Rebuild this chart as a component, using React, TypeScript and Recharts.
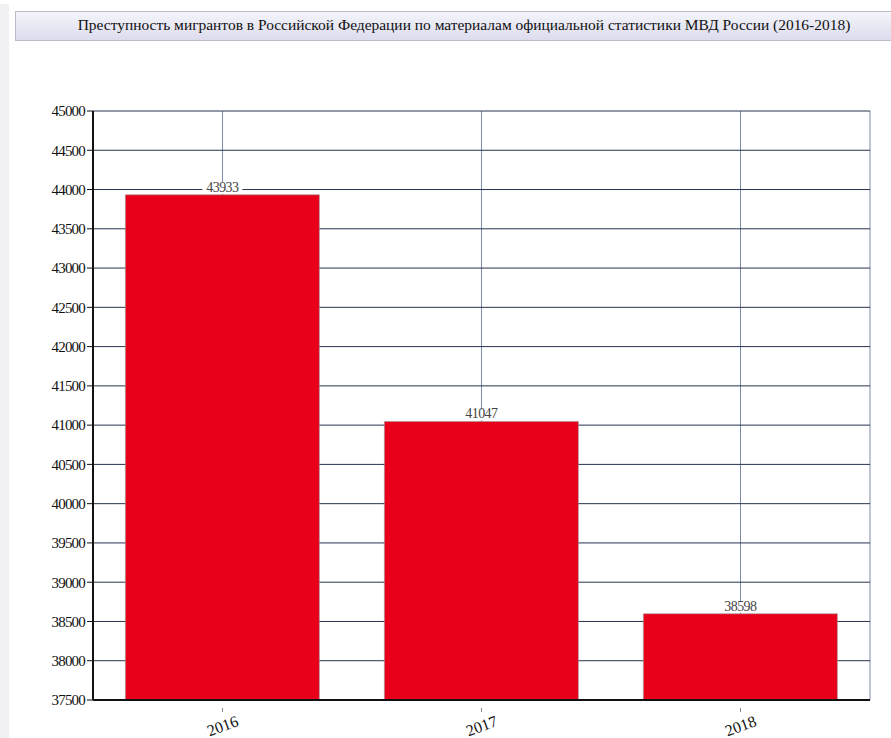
import React from 'react';
import { BarChart, Bar, XAxis, YAxis, CartesianGrid, LabelList } from 'recharts';

const years = ['2016', '2017', '2018'];
const crimes = [43933, 41047, 38598];
const yTicks = [37500, 38000, 38500, 39000, 39500, 40000, 40500, 41000, 41500, 42000, 42500, 43000, 43500, 44000, 44500, 45000];
const title = 'Преступность мигрантов в Российской Федерации по материалам официальной статистики МВД России (2016-2018)';

const data = years.map((year, i) => ({ year, crimes: crimes[i] }));

const FONT = 'Liberation Serif';

function ValueLabel(props: any) {
  const { x, y, width, value } = props;
  const cx = x + width / 2;
  const w = 40;
  return (
    <g>
      <rect x={cx - w / 2} y={y - 12} width={w} height={11} fill="#fff" />
      <text x={cx} y={y - 3} textAnchor="middle" fontFamily={FONT} fontSize={14} fill="#444" letterSpacing={-0.6}>
        {value}
      </text>
    </g>
  );
}

function YearTick(props: any) {
  const { x, y, payload } = props;
  return (
    <g transform={`translate(${x},${y})`}>
      <line x1={0} y1={0} x2={0} y2={4} stroke="#888" />
      <text x={0} y={0} transform="translate(2,23) rotate(-20)" textAnchor="middle" fontFamily={FONT} fontSize={16} fill="#111">
        {payload.value}
      </text>
    </g>
  );
}

export default function App() {
  return (
    <div style={{ position: 'absolute', left: 0, top: 0, width: 891, height: 738, background: '#fff', overflow: 'hidden' }}>
      <div style={{ position: 'absolute', left: 0, top: 4, width: 9, height: 734, background: '#f1f1f3' }} />
      <div
        style={{
          position: 'absolute', left: 15, top: 11, width: 880, height: 30,
          border: '1px solid #bcbcc8', boxSizing: 'border-box',
          background: 'linear-gradient(#f4f4fa, #dcdcee)',
          fontFamily: FONT, fontSize: 15, color: '#111', whiteSpace: 'nowrap',
        }}
      >
        <span style={{ position: 'absolute', left: 448, top: 5, transform: 'translateX(-50%) scaleX(1.03)' }}>{title}</span>
      </div>
      <div style={{ position: 'absolute', left: 0, top: 0 }}>
        <BarChart width={891} height={738} data={data} margin={{ top: 111, right: 21, bottom: 0, left: 0 }} barCategoryGap="12.5%">
          <CartesianGrid stroke="#7d8cab" strokeWidth={1} horizontal={false} />
          <CartesianGrid stroke="#27324e" strokeWidth={1} vertical={false} />
          <XAxis
            dataKey="year"
            height={38}
            axisLine={{ stroke: '#111', strokeWidth: 2 }}
            tickLine={false}
            tick={<YearTick />}
            interval={0}
          />
          <YAxis
            width={93}
            domain={[37500, 45000]}
            ticks={yTicks}
            interval={0}
            axisLine={{ stroke: '#111', strokeWidth: 2 }}
            tickLine={{ stroke: '#111' }}
            tickSize={6}
            tick={{ fontFamily: FONT, fontSize: 15, fill: '#111', letterSpacing: -0.8 }}
            allowDataOverflow
          />
          <YAxis
            yAxisId="frame"
            orientation="right"
            width={0}
            domain={[37500, 45000]}
            tick={false}
            tickLine={false}
            axisLine={{ stroke: '#a0a0a0', strokeWidth: 2 }}
          />
          <Bar dataKey="crimes" fill="#e8001a" stroke="#9a9a9a" strokeWidth={0.6} isAnimationActive={false}>
            <LabelList dataKey="crimes" content={<ValueLabel />} />
          </Bar>
        </BarChart>
      </div>
    </div>
  );
}
